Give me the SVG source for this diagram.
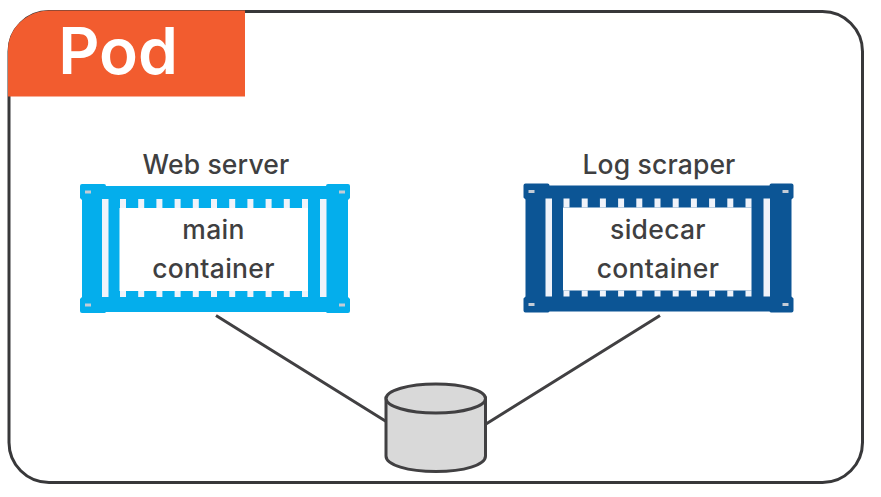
<svg xmlns="http://www.w3.org/2000/svg" width="881" height="497" viewBox="0 0 881 497">
<defs>
<style>
text{font-family:"Inter","Open Sans","Liberation Sans",sans-serif;fill:#3f3f41;text-anchor:middle;font-weight:500}
.lbl{font-size:26.500px;letter-spacing:.15px}
.in{font-size:26.500px;letter-spacing:.3px}
.t{fill:#f0f3fa}
.h{fill:#c4ccd6}
.ln{fill:none;stroke:#414042;stroke-width:3}
</style>
<g id="ctr">
<path d="M2 0H24a2 2 0 0 1 2 2H246a2 2 0 0 1 2-2H268a2 2 0 0 1 2 2V14L268 16V113L270 115V127a2 2 0 0 1-2 2H248a2 2 0 0 1-2-1H26a2 2 0 0 1-2 1H2a2 2 0 0 1-2-2V115L2 113V16L0 14V2a2 2 0 0 1 2-2Z"/>
<rect x="39.500" y="24" width="188.500" height="83" fill="#fff"/>
<g class="t">
<rect x="22" y="15" width="6.500" height="98"/><rect x="240" y="15" width="6.500" height="98"/>
<path d="M40 15h6v9h-6zM58.200 15h6v9h-6zM76.400 15h6v9h-6zM94.600 15h6v9h-6zM112.800 15h6v9h-6zM131 15h6v9h-6zM149.200 15h6v9h-6zM167.400 15h6v9h-6zM185.600 15h6v9h-6zM203.800 15h6v9h-6zM222 15h6v9h-6z"/>
<path d="M40 107h6v6h-6zM58.200 107h6v6h-6zM76.400 107h6v6h-6zM94.600 107h6v6h-6zM112.800 107h6v6h-6zM131 107h6v6h-6zM149.200 107h6v6h-6zM167.400 107h6v6h-6zM185.600 107h6v6h-6zM203.800 107h6v6h-6zM222 107h6v6h-6z"/>
</g>
<g class="h"><rect x="5" y="6.500" width="6" height="3"/><rect x="5" y="119.500" width="6" height="3"/><rect x="259" y="6.500" width="6" height="3"/><rect x="259" y="119.500" width="6" height="3"/></g>
</g>
</defs>
<rect width="881" height="497" fill="#fff"/>
<g id="pod"><rect x="9" y="11.500" width="853.500" height="471" rx="40" fill="#fff" stroke="#38383a" stroke-width="3"/>
<path d="M8 96.500V50C8 28 27 10.500 50 10.500H245V96.500Z" fill="#f25c2f"/>
<text x="118" y="74" style="font-size:64px;fill:#fff;font-weight:600">Pod</text></g>
<g id="connectors"><path class="ln" d="M216 315.500L387 422M660 315.500L486 424"/></g>
<g id="web-server"><use href="#ctr" x="80" y="184" fill="#04aeec"/>
<text class="lbl" x="216" y="174">Web server</text>
<text class="in" x="213.500" y="238.500">main</text><text class="in" x="213.500" y="277.500">container</text></g>
<g id="log-scraper"><use href="#ctr" x="523.500" y="183.500" fill="#0c5595"/>
<text class="lbl" x="659" y="174">Log scraper</text>
<text class="in" x="658" y="238.500">sidecar</text><text class="in" x="658" y="277.500">container</text></g>
<g id="volume"><path d="M386 398V456C386 465 408 471.500 436 471.500S485.500 465 485.500 456V398Z" fill="#d9d9d9" stroke="#414042" stroke-width="3"/>
<ellipse cx="435.800" cy="398.500" rx="49.700" ry="14.500" fill="#d9d9d9" stroke="#414042" stroke-width="3"/></g>
</svg>
